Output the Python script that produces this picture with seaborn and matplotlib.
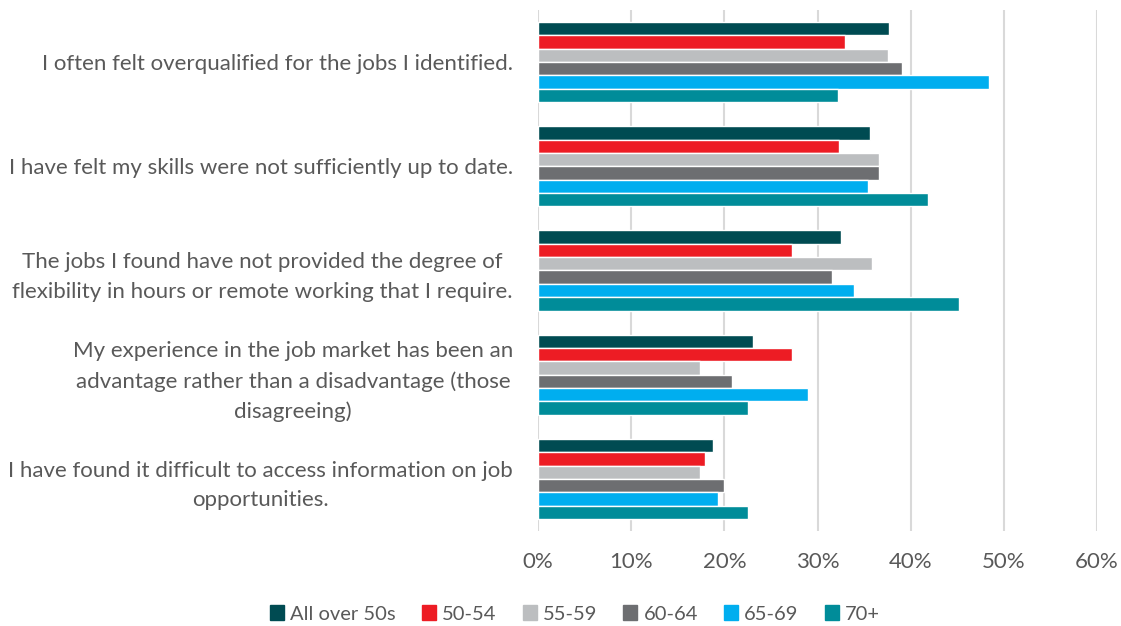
import matplotlib
matplotlib.use("Agg")
import matplotlib.pyplot as plt
import seaborn as sns
import pandas as pd
from matplotlib.ticker import PercentFormatter

statements = [
    "I often felt overqualified for the jobs I identified.",
    "I have felt my skills were not sufficiently up to date.",
    "The jobs I found have not provided the degree of\nflexibility in hours or remote working that I require.",
    "My experience in the job market has been an\nadvantage rather than a disadvantage (those\ndisagreeing)",
    "I have found it difficult to access information on job\nopportunities.",
]
groups = ["All over 50s", "50-54", "55-59", "60-64", "65-69", "70+"]

all_over_50s = [37.7, 35.6, 32.5, 23.1, 18.8]
age_50_54 = [33.0, 32.3, 27.3, 27.3, 17.9]
age_55_59 = [37.6, 36.6, 35.8, 17.4, 17.4]
age_60_64 = [39.1, 36.6, 31.6, 20.8, 20.0]
age_65_69 = [48.4, 35.4, 33.9, 29.0, 19.3]
age_70_plus = [32.2, 41.9, 45.2, 22.5, 22.5]

colors = ["#004B52", "#ED1C24", "#BCBEC0", "#6D6E71", "#00AEEF", "#008C99"]

series = [all_over_50s, age_50_54, age_55_59, age_60_64, age_65_69, age_70_plus]
rows = []
for g, vals in zip(groups, series):
    for s, v in zip(statements, vals):
        rows.append({"statement": s, "group": g, "value": v})
df = pd.DataFrame(rows)

sns.set_theme(style="white")
plt.rcParams["font.family"] = ["Lato", "DejaVu Sans"]
text_color = "#595959"
fs = 16

fig = plt.figure(figsize=(11.21, 6.26), dpi=100)
ax = fig.add_axes([538 / 1121, 1 - 531 / 626, (1097 - 538) / 1121, (531 - 10) / 626])

sns.barplot(
    data=df, x="value", y="statement", hue="group",
    order=statements, hue_order=groups, palette=colors,
    orient="h", width=0.77, saturation=1, ax=ax, legend=False,
)

ax.set_xlim(0, 60)
ax.set_xticks(range(0, 61, 10))
ax.xaxis.set_major_formatter(PercentFormatter(decimals=0))
ax.set_xlabel("")
ax.set_ylabel("")
ax.grid(axis="x", color="#D9D9D9", linewidth=1.5)
ax.set_axisbelow(True)
for sp in ax.spines.values():
    sp.set_visible(False)
ax.tick_params(axis="x", length=0, pad=15, labelsize=fs, labelcolor=text_color)
ax.tick_params(axis="y", length=0, pad=18, labelsize=fs, labelcolor=text_color)
for lbl in ax.get_yticklabels():
    lbl.set_multialignment("center")
    lbl.set_linespacing(1.58)

handles = [plt.Rectangle((0, 0), 1, 1, color=c) for c in colors]
fig.legend(
    handles, groups, loc="center", bbox_to_anchor=(575 / 1121, 1 - 614 / 626),
    ncol=6, frameon=False, fontsize=14.5, handlelength=0.7, handleheight=0.7,
    handletextpad=0.3, columnspacing=1.3, labelcolor=text_color,
)

fig.savefig("out.png", dpi=100, facecolor="white")
